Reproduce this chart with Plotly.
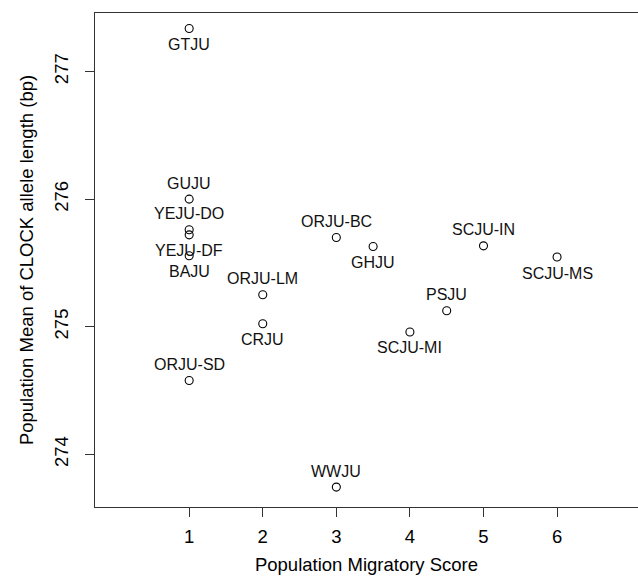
import plotly.graph_objects as go

populations = ["GTJU", "GUJU", "YEJU-DO", "YEJU-DF", "BAJU", "ORJU-SD",
               "ORJU-LM", "CRJU", "ORJU-BC", "WWJU", "GHJU",
               "SCJU-MI", "PSJU", "SCJU-IN", "SCJU-MS"]
migratory_score = [1, 1, 1, 1, 1, 1, 2, 2, 3, 3, 3.5, 4, 4.5, 5, 6]
clock_mean = [277.336, 276.00, 275.76, 275.72, 275.556, 274.579,
              275.251, 275.024, 275.699, 273.744, 275.629,
              274.959, 275.126, 275.634, 275.546]
label_side = ["below", "above", "above", "below", "below", "above",
              "above", "below", "above", "above", "below",
              "below", "above", "above", "below"]

x_ticks = [1, 2, 3, 4, 5, 6]
y_ticks = [274, 275, 276, 277]

FONT = "Liberation Sans, Arial, sans-serif"

fig = go.Figure()
fig.add_trace(go.Scatter(
    x=migratory_score, y=clock_mean, mode="markers",
    marker=dict(symbol="circle-open", size=8, color="black",
                line=dict(width=1.1, color="black")),
    hoverinfo="text", text=populations, showlegend=False))

for name, xv, yv, side in zip(populations, migratory_score, clock_mean, label_side):
    fig.add_annotation(x=xv, y=yv, text=name, showarrow=False,
                       yshift=16 if side == "above" else -16,
                       font=dict(family=FONT, size=16, color="#111"))

fig.update_layout(
    width=638, height=576,
    margin=dict(l=95, r=0, t=12.5, b=68.5),
    paper_bgcolor="white", plot_bgcolor="white",
    font=dict(family=FONT, color="black"),
    xaxis=dict(range=[-0.28, 7.10], tickvals=x_ticks,
               ticktext=[str(v) for v in x_ticks],
               showgrid=False, zeroline=False,
               showline=True, mirror=True, linecolor="#333", linewidth=1.3,
               ticks="outside", ticklen=9, tickwidth=1.2, tickcolor="#333",
               ticklabelstandoff=4,
               tickfont=dict(size=18.5, family=FONT),
               title=dict(text="Population Migratory Score",
                          font=dict(size=18.5, family=FONT), standoff=11)),
    yaxis=dict(range=[273.588, 277.458], tickvals=y_ticks,
               ticktext=[str(v) for v in y_ticks], tickangle=-90,
               showgrid=False, zeroline=False,
               showline=True, mirror=False, linecolor="#333", linewidth=1.3,
               ticks="outside", ticklen=9, tickwidth=1.2, tickcolor="#333",
               ticklabelstandoff=9,
               tickfont=dict(size=18.5, family=FONT),
               title=dict(text="Population Mean of CLOCK allele length (bp)",
                          font=dict(size=18.5, family=FONT), standoff=12)),
)

fig.write_html("out.html")
